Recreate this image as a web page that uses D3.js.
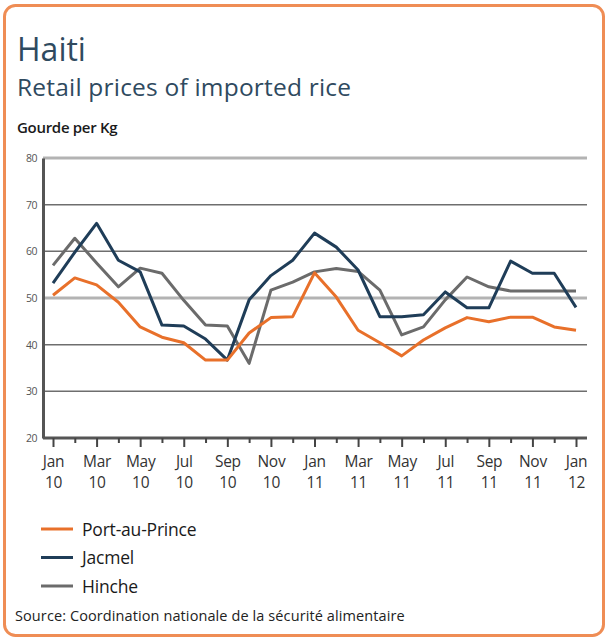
<!DOCTYPE html>
<html>
<head>
<meta charset="utf-8">
<script src="https://cdn.jsdelivr.net/npm/d3@7"></script>
<style>
  html, body { margin: 0; padding: 0; background: #fff; }
  svg { display: block; }
  text { font-variant-ligatures: none; }
</style>
</head>
<body>
<svg id="chart" width="607" height="640"></svg>
<script>
const monthLabels = ["Jan","Feb","Mar","Apr","May","Jun","Jul","Aug","Sep","Oct","Nov","Dec",
                     "Jan","Feb","Mar","Apr","May","Jun","Jul","Aug","Sep","Oct","Nov","Dec","Jan"];
const yearLabels = ["10","10","10","10","10","10","10","10","10","10","10","10",
                    "11","11","11","11","11","11","11","11","11","11","11","11","12"];
const yTicks = [20, 30, 40, 50, 60, 70, 80];

const portAuPrince = [50.6, 54.3, 52.8, 49.1, 43.8, 41.6, 40.4, 36.7, 36.7, 42.5, 45.8, 46.0,
                      55.4, 50.2, 43.1, 40.4, 37.6, 41.0, 43.6, 45.8, 44.9, 45.9, 45.9, 43.8, 43.1];
const jacmel = [53.2, 59.8, 66.0, 58.1, 55.6, 44.2, 44.0, 41.2, 36.7, 49.6, 54.8, 58.1,
                63.9, 60.9, 56.0, 46.0, 46.0, 46.4, 51.3, 47.9, 47.9, 57.9, 55.3, 55.3, 48.0];
const hinche = [57.0, 62.8, 57.5, 52.4, 56.4, 55.3, 49.5, 44.2, 44.0, 36.0, 51.7, 53.4,
                55.6, 56.3, 55.7, 51.7, 42.1, 43.8, 49.6, 54.5, 52.4, 51.5, 51.5, 51.5, 51.5];

const seriesNames = ["Port-au-Prince", "Jacmel", "Hinche"];
const seriesColors = ["#e8702a", "#1f3d58", "#6b6b6b"];
const seriesData = [portAuPrince, jacmel, hinche];

const svg = d3.select("#chart");
const FONT = "'Open Sans', 'Noto Sans', sans-serif";

// frame
svg.append("rect")
  .attr("x", 4.5).attr("y", 5.5).attr("width", 599).attr("height", 630)
  .attr("rx", 11).attr("ry", 11)
  .attr("fill", "#fff").attr("stroke", "#ef8d55").attr("stroke-width", 3);

// titles
svg.append("text").attr("x", 17).attr("y", 61)
  .attr("font-family", FONT).attr("font-size", 32).attr("fill", "#2f4a5f")
  .text("Haiti");
svg.append("text").attr("x", 17).attr("y", 96)
  .attr("font-family", FONT).attr("font-size", 24.5).attr("fill", "#2f4a5f")
  .attr("letter-spacing", 0.2)
  .text("Retail prices of imported rice");
svg.append("text").attr("x", 17).attr("y", 133)
  .attr("font-family", FONT).attr("font-size", 15).attr("font-weight", 600).attr("fill", "#1a1a1a")
  .attr("letter-spacing", -0.3)
  .text("Gourde per Kg");

// scales
const x = d3.scaleLinear().domain([0, 24]).range([53, 576]);
const y = d3.scaleLinear().domain([20, 80]).range([438, 158]);
const xLeft = 43, xRight = 587;

// gridlines
const grid = svg.append("g");
yTicks.filter(t => t > 20).forEach(t => {
  const light = (t === 80 || t === 50);
  grid.append("line")
    .attr("x1", xLeft).attr("x2", xRight)
    .attr("y1", y(t)).attr("y2", y(t))
    .attr("stroke", light ? "#b3b3b3" : "#6e6e6e")
    .attr("stroke-width", light ? 3 : 1.5);
});

// y axis
const yAxis = d3.axisLeft(y).tickValues(yTicks).tickSize(0).tickPadding(6);
const gy = svg.append("g").attr("transform", `translate(${xLeft},0)`).call(yAxis);
gy.select(".domain").attr("stroke", "#555").attr("stroke-width", 3);
gy.selectAll("text").attr("font-family", FONT).attr("font-size", 10.5).attr("fill", "#555")
  .attr("letter-spacing", -0.5);

// x axis
const xAxis = d3.axisBottom(x).tickValues(d3.range(25)).tickSize(9).tickFormat(() => "");
const gx = svg.append("g").attr("transform", `translate(0,${y(20)})`).call(xAxis);
gx.select(".domain").attr("d", `M${xLeft},0H${xRight}`).attr("stroke", "#555").attr("stroke-width", 3);
gx.selectAll(".tick line").attr("stroke", "#444").attr("stroke-width", 2)
  .attr("y2", (d) => d % 2 === 0 ? 9 : 5);
gx.selectAll(".tick").filter(d => d % 2 === 0).append("text")
  .attr("fill", "#333").attr("font-family", FONT).attr("font-size", 15.5)
  .attr("text-anchor", "middle").attr("letter-spacing", -0.3)
  .each(function(d) {
    const t = d3.select(this);
    t.append("tspan").attr("x", 0).attr("y", 29).text(monthLabels[d]);
    t.append("tspan").attr("x", 0).attr("y", 50).text(yearLabels[d]);
  });

// series lines
const line = d3.line().x((d, i) => x(i)).y(d => y(d));
[2, 1, 0].forEach(k => {
  svg.append("path").datum(seriesData[k])
    .attr("fill", "none").attr("stroke", seriesColors[k])
    .attr("stroke-width", 3).attr("stroke-linejoin", "round")
    .attr("d", line);
});

// legend
const legend = svg.append("g");
seriesNames.forEach((name, i) => {
  const ly = 529 + i * 28.5;
  legend.append("line").attr("x1", 41).attr("x2", 73).attr("y1", ly).attr("y2", ly)
    .attr("stroke", seriesColors[i]).attr("stroke-width", 3);
  legend.append("text").attr("x", 82).attr("y", ly + 6.5)
    .attr("font-family", FONT).attr("font-size", 17.5).attr("fill", "#1a1a1a")
    .attr("letter-spacing", -0.2)
    .text(name);
});

// source
svg.append("text").attr("x", 15).attr("y", 621)
  .attr("font-family", FONT).attr("font-size", 14.5).attr("fill", "#222")
  .attr("letter-spacing", 0.1)
  .text("Source: Coordination nationale de la sécurité alimentaire");
</script>
</body>
</html>
